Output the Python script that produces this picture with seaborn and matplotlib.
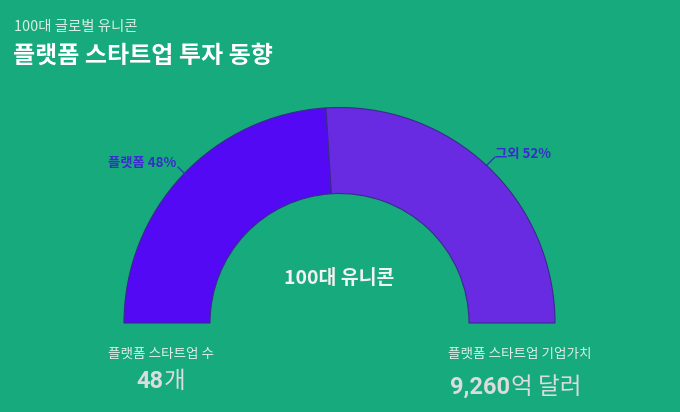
import matplotlib
matplotlib.use("Agg")
import matplotlib.pyplot as plt
import seaborn as sns

categories = ["플랫폼", "그외"]
shares = [48, 52]
slice_colors = ["#5309F4", "#682BE2"]
subtitle = "100대 글로벌 유니콘"
title = "플랫폼 스타트업 투자 동향"
center_label = "100대 유니콘"
stat_labels = ["플랫폼 스타트업 수", "플랫폼 스타트업 기업가치"]
stat_numbers = ["48", "9,260"]
stat_units = ["개", "억 달러"]

sns.set_theme(style="white")
plt.rcParams["font.family"] = ["Noto Sans CJK KR", "DejaVu Sans"]

BG = "#16AA7C"
fig = plt.figure(figsize=(6.8, 4.12), dpi=100, facecolor=BG)
ax = fig.add_axes([0, 0, 1, 1])
ax.set_facecolor(BG)

cx, cy, R, Rin = 339.5, 89, 215.5, 129.5
fracs = [s / sum(shares) / 2 for s in shares]
wedges, _ = ax.pie(fracs, normalize=False, startangle=180, counterclock=False,
                   colors=slice_colors, center=(cx, cy), radius=R,
                   wedgeprops=dict(width=R - Rin, edgecolor="#3B2A8C", linewidth=0.8))
ax.set_xlim(0, 680)
ax.set_ylim(0, 412)
ax.set_aspect("equal")
ax.axis("off")

LBL = "#3A2BCF"
# label leader lines
ax.plot([178, 188], [412 - 167, 412 - 177], color=LBL, lw=0.9)
ax.text(108, 412 - 163, f"{categories[0]} {shares[0]}%", color=LBL, fontsize=9.6,
        fontweight="bold", va="center", ha="left")
ax.plot([486, 495], [412 - 166, 412 - 157], color=LBL, lw=0.9)
ax.text(495, 412 - 154, f"{categories[1]} {shares[1]}%", color=LBL, fontsize=9.6,
        fontweight="bold", va="center", ha="left")

# titles
fig.text(14 / 680, 1 - 27 / 412, subtitle, color="#D6F0E4", fontsize=10.4, va="center", ha="left")
fig.text(13 / 680, 1 - 56 / 412, title, color="white", fontsize=17.3, fontweight="bold",
         va="center", ha="left")

ax.text(cx, 412 - 278, center_label, color="#F2F2F2", fontsize=14, fontweight="semibold",
        va="center", ha="center")

# stats
LIGHT = "#DDEFE7"
ax.text(108, 412 - 354, stat_labels[0], color=LIGHT, fontsize=9.8, va="center", ha="left")
ax.text(448, 412 - 354, stat_labels[1], color=LIGHT, fontsize=9.8, va="center", ha="left")

NUM = "#DCDCDC"
for x, y, num, unit in [(136, 388, stat_numbers[0], stat_units[0]),
                        (450, 394, stat_numbers[1], stat_units[1])]:
    t = ax.text(x, 412 - y, num, color=NUM, fontsize=17, fontweight="bold",
                family="Roboto", va="baseline", ha="left")
    ax.annotate(unit, xy=(1, 0), xycoords=t, xytext=(0.5, 0), textcoords="offset points",
                color=NUM, fontsize=17, va="bottom", ha="left")

fig.savefig("out.png", dpi=100, facecolor=BG)
